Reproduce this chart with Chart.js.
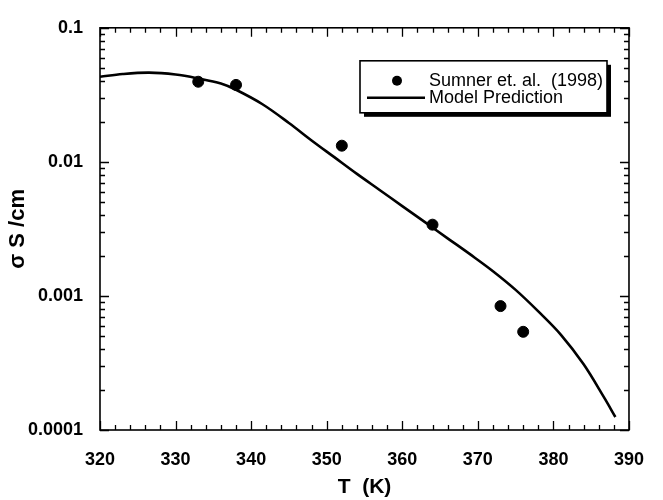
<!DOCTYPE html>
<html>
<head>
<meta charset="utf-8">
<script src="https://cdn.jsdelivr.net/npm/chart.js@4/dist/chart.umd.min.js"></script>
<style>
  body { margin: 0; background: #fff; }
  canvas { display: block; }
</style>
</head>
<body>
<canvas id="sigma-chart" width="663" height="500"></canvas>
<script>
// measured points, Sumner et al. (1998)
const sumnerT = [333, 338, 352, 364, 373, 376];
const sumnerSigma = [0.0396, 0.0375, 0.0132, 0.0034, 0.00084, 0.00054];

// model prediction curve
const modelT = [320, 323, 326.5, 330, 333, 336, 338, 341.5, 345, 348, 351, 354, 357, 360, 363, 366, 369, 372, 375, 378, 381, 384, 386.7, 388.2];
const modelSigma = [0.0431, 0.0452, 0.0463, 0.0448, 0.0419, 0.0384, 0.0345, 0.0269, 0.0195, 0.01445, 0.01084, 0.00813, 0.00617, 0.00468, 0.00355, 0.00269, 0.00204, 0.00153, 0.00111, 0.000767, 0.000513, 0.000309, 0.000175, 0.000125];

const xTickValues = [320, 330, 340, 350, 360, 370, 380, 390];
const xTickLabels = ["320", "330", "340", "350", "360", "370", "380", "390"];
const yTickValues = [0.0001, 0.001, 0.01, 0.1];
const yTickLabels = ["0.0001", "0.001", "0.01", "0.1"];

const FONT = "'Liberation Sans', Arial, Helvetica, sans-serif";

function toPoints(xs, ys) {
  return xs.map((x, i) => ({ x: x, y: ys[i] }));
}

// box + inward ticks on all four sides
const framePlugin = {
  id: "frame",
  afterDatasetsDraw(chart) {
    const ctx = chart.ctx;
    const area = chart.chartArea;
    const xs = chart.scales.x;
    const ys = chart.scales.y;
    ctx.save();
    ctx.strokeStyle = "#000";
    ctx.lineWidth = 1.6;
    ctx.strokeRect(area.left, area.top, area.right - area.left, area.bottom - area.top);

    ctx.lineWidth = 1.3;
    ctx.beginPath();
    for (let v = xs.min; v <= xs.max + 1e-9; v += 2) {
      const px = Math.round(xs.getPixelForValue(v)) + 0.5;
      const len = v % 10 === 0 ? 9 : 5;
      ctx.moveTo(px, area.bottom);
      ctx.lineTo(px, area.bottom - len);
      ctx.moveTo(px, area.top);
      ctx.lineTo(px, area.top + len);
    }
    for (let e = -4; e <= -1; e++) {
      for (let k = 1; k <= 9; k++) {
        if (e === -1 && k > 1) break;
        const v = k * Math.pow(10, e);
        const py = Math.round(ys.getPixelForValue(v)) + 0.5;
        const len = k === 1 ? 9 : 5;
        ctx.moveTo(area.left, py);
        ctx.lineTo(area.left + len, py);
        ctx.moveTo(area.right, py);
        ctx.lineTo(area.right - len, py);
      }
    }
    ctx.stroke();
    ctx.restore();
  },
};

// shadowed legend box in upper right
const legendBoxPlugin = {
  id: "legendBox",
  afterDraw(chart) {
    const ctx = chart.ctx;
    const area = chart.chartArea;
    const left = area.left + 260;
    const top = area.top + 33;
    const w = 247;
    const h = 52;
    ctx.save();
    ctx.fillStyle = "#000";
    ctx.fillRect(left + 4, top + 4, w, h);
    ctx.fillStyle = "#fff";
    ctx.fillRect(left, top, w, h);
    ctx.strokeStyle = "#000";
    ctx.lineWidth = 1.6;
    ctx.strokeRect(left, top, w, h);

    const dsModel = chart.data.datasets[0];
    const dsSumner = chart.data.datasets[1];
    const row1 = top + 20;
    const row2 = top + 37;
    ctx.fillStyle = "#000";
    ctx.beginPath();
    ctx.arc(left + 37, row1, 5, 0, Math.PI * 2);
    ctx.fill();
    ctx.beginPath();
    ctx.lineWidth = 2.4;
    ctx.moveTo(left + 7, row2);
    ctx.lineTo(left + 65, row2);
    ctx.stroke();

    ctx.font = "18px " + FONT;
    ctx.textBaseline = "middle";
    ctx.textAlign = "left";
    ctx.fillText(dsSumner.label, left + 69, row1);
    ctx.fillText(dsModel.label, left + 69, row2);
    ctx.restore();
  },
};

new Chart(document.getElementById("sigma-chart"), {
  type: "scatter",
  data: {
    datasets: [
      {
        type: "line",
        label: "Model Prediction",
        data: toPoints(modelT, modelSigma),
        borderColor: "#000",
        borderWidth: 2.6,
        pointRadius: 0,
        fill: false,
        tension: 0.35,
      },
      {
        label: "Sumner et. al.  (1998)",
        data: toPoints(sumnerT, sumnerSigma),
        backgroundColor: "#000",
        borderColor: "#000",
        pointRadius: 5.5,
        showLine: false,
      },
    ],
  },
  options: {
    responsive: false,
    animation: false,
    layout: { padding: { top: 20, right: 21, bottom: 0, left: 0 } },
    plugins: {
      legend: { display: false },
      tooltip: { enabled: false },
    },
    scales: {
      x: {
        type: "linear",
        min: 320,
        max: 390,
        afterBuildTicks: (scale) => {
          scale.ticks = xTickValues.map((v) => ({ value: v }));
        },
        afterFit: (scale) => {
          scale.height = 70;
        },
        grid: { display: false, drawTicks: false },
        border: { display: false },
        ticks: {
          padding: 19,
          color: "#000",
          font: { family: FONT, size: 18, weight: "bold" },
          maxRotation: 0,
          autoSkip: false,
          callback: (value, index) => xTickLabels[index],
        },
        title: {
          display: true,
          text: "T  (K)",
          color: "#000",
          font: { family: FONT, size: 21, weight: "bold" },
          padding: { top: 0, bottom: 0 },
        },
      },
      y: {
        type: "logarithmic",
        min: 0.0001,
        max: 0.1,
        afterBuildTicks: (scale) => {
          scale.ticks = yTickValues.map((v) => ({ value: v }));
        },
        afterFit: (scale) => {
          scale.width = 100;
        },
        grid: { display: false, drawTicks: false },
        border: { display: false },
        ticks: {
          padding: 17,
          color: "#000",
          font: { family: FONT, size: 18, weight: "bold" },
          autoSkip: false,
          callback: (value, index) => yTickLabels[index],
        },
        title: {
          display: true,
          text: "σ S /cm",
          color: "#000",
          font: { family: FONT, size: 22, weight: "bold" },
          padding: { top: 5, bottom: 0 },
        },
      },
    },
  },
  plugins: [framePlugin, legendBoxPlugin],
});
</script>
</body>
</html>
